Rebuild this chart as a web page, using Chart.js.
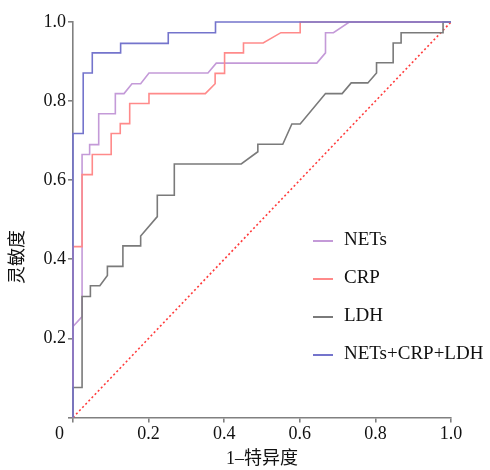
<!DOCTYPE html>
<html lang="zh">
<head>
<meta charset="utf-8">
<script src="https://cdn.jsdelivr.net/npm/chart.js@4.4.0/dist/chart.umd.min.js"></script>
<style>
    body { margin: 0; background: #fff; }
    #wrap { position: relative; width: 490px; height: 470px; }
    #legend {
        position: absolute;
        left: 313px;
        top: 224px;
        font-family: "Liberation Serif", "Noto Sans CJK SC", serif;
        font-size: 19px;
        color: #111;
    }
    #legend div { height: 38px; line-height: 30px; white-space: nowrap; }
    #legend span.ln {
        display: inline-block;
        width: 20px;
        height: 2px;
        vertical-align: middle;
        margin-right: 11px;
    }
</style>
</head>
<body>
<div id="wrap">
    <canvas id="roc"></canvas>
    <div id="legend"></div>
</div>
<script>
// ROC curves (x = 1-特异度, y = 灵敏度)
var seriesNames = ["NETs", "CRP", "LDH", "NETs+CRP+LDH"];
var seriesColors = ["#c49ad8", "#ff8a8a", "#7a7a7a", "#7474cc"];

var netsX = [0, 0, 0.024, 0.024, 0.044, 0.044, 0.068, 0.068, 0.112, 0.112, 0.135, 0.156, 0.179, 0.201, 0.357, 0.379, 0.645, 0.668, 0.668, 0.689, 0.731, 1.0];
var netsY = [0, 0.230, 0.255, 0.665, 0.665, 0.690, 0.690, 0.768, 0.768, 0.819, 0.819, 0.844, 0.844, 0.871, 0.871, 0.896, 0.896, 0.922, 0.973, 0.973, 1.0, 1.0];

var crpX = [0, 0, 0.024, 0.024, 0.051, 0.051, 0.101, 0.101, 0.125, 0.125, 0.150, 0.150, 0.201, 0.201, 0.350, 0.376, 0.376, 0.401, 0.401, 0.451, 0.451, 0.503, 0.550, 0.601, 0.601, 1.0];
var crpY = [0, 0.432, 0.432, 0.614, 0.614, 0.665, 0.665, 0.718, 0.718, 0.743, 0.743, 0.794, 0.794, 0.819, 0.819, 0.844, 0.870, 0.870, 0.922, 0.922, 0.947, 0.947, 0.973, 0.973, 1.0, 1.0];

var ldhX = [0, 0, 0.024, 0.024, 0.046, 0.046, 0.071, 0.091, 0.091, 0.132, 0.132, 0.179, 0.179, 0.223, 0.223, 0.268, 0.268, 0.445, 0.489, 0.489, 0.555, 0.579, 0.601, 0.668, 0.712, 0.736, 0.780, 0.803, 0.803, 0.847, 0.847, 0.868, 0.868, 0.979, 0.979, 1.0];
var ldhY = [0, 0.076, 0.076, 0.306, 0.306, 0.333, 0.333, 0.359, 0.382, 0.382, 0.434, 0.434, 0.459, 0.508, 0.562, 0.562, 0.641, 0.641, 0.672, 0.691, 0.691, 0.742, 0.742, 0.819, 0.819, 0.846, 0.846, 0.871, 0.897, 0.897, 0.947, 0.947, 0.973, 0.973, 1.0, 1.0];

var comboX = [0, 0, 0.027, 0.027, 0.051, 0.051, 0.126, 0.126, 0.252, 0.252, 0.377, 0.377, 1.0];
var comboY = [0, 0.718, 0.718, 0.871, 0.871, 0.922, 0.922, 0.946, 0.946, 0.973, 0.973, 1.0, 1.0];

var refX = [0, 1];
var refY = [0, 1];

var xTicks = [0, 0.2, 0.4, 0.6, 0.8, 1.0];
var yTicks = [0.2, 0.4, 0.6, 0.8, 1.0];

function pts(xs, ys) {
    var out = [];
    for (var i = 0; i < xs.length; i++) out.push({x: xs[i], y: ys[i]});
    return out;
}

var serifFont = '"Liberation Serif", "Noto Sans CJK SC", serif';
var axisGray = "#808080";

// y title sits a bit below the middle in the original, so draw it by hand
var yTitle = {
    id: "yTitle",
    afterDraw: function(c) {
        var ctx = c.ctx;
        ctx.save();
        ctx.translate(18, 257);
        ctx.rotate(-Math.PI / 2);
        ctx.font = "18px " + serifFont;
        ctx.fillStyle = "#111";
        ctx.textAlign = "center";
        ctx.textBaseline = "middle";
        ctx.fillText("灵敏度", 0, 0);
        ctx.restore();
    }
};

var series = [pts(netsX, netsY), pts(crpX, crpY), pts(ldhX, ldhY), pts(comboX, comboY)];
var datasets = [];
for (var s = 3; s >= 0; s--) {
    datasets.push({
        label: seriesNames[s],
        data: series[s],
        borderColor: seriesColors[s],
        borderWidth: 1.6,
        pointRadius: 0,
        tension: 0,
        clip: false
    });
}
datasets.push({
    label: "ref",
    data: pts(refX, refY),
    borderColor: "#ff3b3b",
    borderWidth: 1.6,
    borderDash: [2, 2.5],
    pointRadius: 0,
    clip: false
});

var chart = new Chart(document.getElementById("roc"), {
    type: "line",
    data: { datasets: datasets },
    options: {
        responsive: true,
        maintainAspectRatio: false,
        animation: false,
        layout: { padding: { top: 22, right: 39, left: 0, bottom: 0 } },
        plugins: { legend: { display: false }, tooltip: { enabled: false } },
        scales: {
            x: {
                type: "linear",
                min: 0, max: 1,
                afterBuildTicks: function(ax) { ax.ticks = xTicks.map(function(v) { return {value: v}; }); },
                afterFit: function(ax) { ax.height = 52.5; },
                border: { display: true, color: axisGray, width: 1.6 },
                grid: { drawOnChartArea: false, drawTicks: true, tickLength: 5, color: axisGray, lineWidth: 1.6 },
                ticks: {
                    padding: 1,
                    color: "#111",
                    font: { family: serifFont, size: 18 },
                    maxRotation: 0,
                    callback: function(v) { return v === 0 ? "0\u2002\u2002\u2002" : v.toFixed(1); }
                },
                title: {
                    display: true,
                    text: "1\u2013特异度",
                    color: "#111",
                    font: { family: serifFont, size: 18 },
                    padding: { top: 0, bottom: 0 }
                }
            },
            y: {
                type: "linear",
                min: 0, max: 1,
                afterBuildTicks: function(ax) { ax.ticks = [0].concat(yTicks).map(function(v) { return {value: v}; }); },
                afterFit: function(ax) { ax.width = 73; },
                border: { display: true, color: axisGray, width: 1.6 },
                grid: { drawOnChartArea: false, drawTicks: true, tickLength: 5, color: axisGray, lineWidth: 1.6 },
                ticks: {
                    padding: 2,
                    color: "#111",
                    font: { family: serifFont, size: 18 },
                    callback: function(v) { return v === 0 ? "" : v.toFixed(1); }
                }
            }
        }
    },
    plugins: [yTitle]
});

// legend as plain text next to the curves
var lg = document.getElementById("legend");
for (var i = 0; i < seriesNames.length; i++) {
    var row = document.createElement("div");
    var ln = document.createElement("span");
    ln.className = "ln";
    ln.style.background = seriesColors[i];
    row.appendChild(ln);
    row.appendChild(document.createTextNode(seriesNames[i]));
    lg.appendChild(row);
}
</script>
</body>
</html>
